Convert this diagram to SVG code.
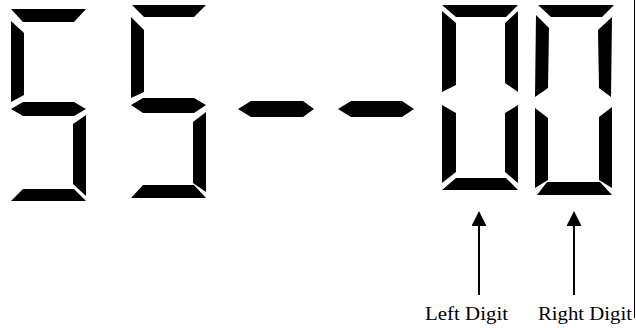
<svg xmlns="http://www.w3.org/2000/svg" width="636" height="328" viewBox="0 0 636 328">
<style>
.seg{fill:#000;stroke:none}
.conn{stroke:#000;stroke-width:2;fill:none}
.lbl{font-family:"Liberation Serif","Times New Roman",serif;font-size:19px;fill:#000}
.frame{stroke:#000;stroke-width:1}
</style>
<defs>
<marker id="ah" markerUnits="userSpaceOnUse" markerWidth="15" markerHeight="15" viewBox="0 0 15 15" refX="11" refY="7.5" orient="auto">
<path d="M0,0 L15,7.5 L0,15 z" fill="#000"/>
</marker>
</defs>
<rect width="636" height="328" fill="#fff"/>
<line class="frame" x1="634.5" y1="0" x2="634.5" y2="318"/>
<g id="digit1">
<polygon class="seg" points="11,9 86,9 74,22 23,22"/>
<polygon class="seg" points="11,21 24,33 24,95 11,102"/>
<polygon class="seg" points="11,109 23,102 74,102 86,109 74,116 23,116"/>
<polygon class="seg" points="73,124 86,115 86,196 73,184"/>
<polygon class="seg" points="23,189 74,189 86,201 11,201"/>
</g>
<g id="digit2">
<polygon class="seg" points="132,5 206,5 194,17 144,17"/>
<polygon class="seg" points="131,17 144,30 144,92 131,98"/>
<polygon class="seg" points="131,105 143,98 194,98 206,105 194,113 143,113"/>
<polygon class="seg" points="193,122 206,112 206,192 193,183"/>
<polygon class="seg" points="143,185 194,185 206,198 131,198"/>
</g>
<g id="dash1">
<polygon class="seg" points="238,109 251,101 303,101 314,109 303,117 251,117"/>
</g>
<g id="dash2">
<polygon class="seg" points="338,109 351,101 402,101 414,109 402,117 351,117"/>
</g>
<g id="digit-left">
<polygon class="seg" points="442,5 518,5 506,17 456,17"/>
<polygon class="seg" points="442,11 456,23 456,85 442,92"/>
<polygon class="seg" points="505,23 518,11 518,92 505,83"/>
<polygon class="seg" points="442,105 456,113 456,172 442,183"/>
<polygon class="seg" points="505,113 518,105 518,183 505,172"/>
<polygon class="seg" points="456,178 506,178 518,190 442,190"/>
</g>
<g id="digit-right">
<polygon class="seg" points="538,5 614,5 602,17 551,17"/>
<polygon class="seg" points="536,15 549,28 548,88 535,97"/>
<polygon class="seg" points="598,30 612,17 611,97 599,88"/>
<polygon class="seg" points="535,108 548,118 548,180 535,188"/>
<polygon class="seg" points="599,117 612,107 612,188 599,180"/>
<polygon class="seg" points="547,182 600,182 612,195 537,195"/>
</g>
<g id="connectors">
<line class="conn" x1="479" y1="295" x2="479" y2="215" marker-end="url(#ah)"/>
<line class="conn" x1="574" y1="295" x2="574" y2="215" marker-end="url(#ah)"/>
</g>
<g id="label-left">
<text class="lbl" x="425" y="320" textLength="83" lengthAdjust="spacingAndGlyphs">Left Digit</text>
</g>
<g id="label-right">
<text class="lbl" x="538" y="320" textLength="94" lengthAdjust="spacingAndGlyphs">Right Digit</text>
</g>
</svg>
